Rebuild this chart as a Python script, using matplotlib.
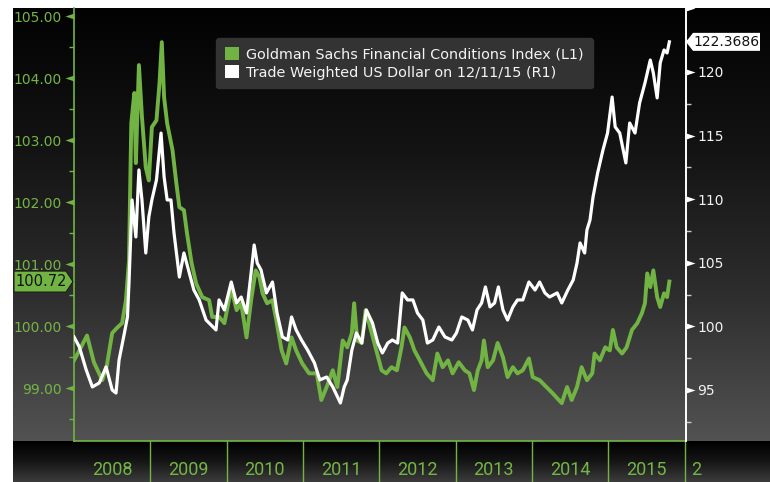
import matplotlib
matplotlib.use("Agg")
import matplotlib.pyplot as plt
import numpy as np
from matplotlib.path import Path
from matplotlib.patches import Patch, Polygon
from matplotlib.ticker import MultipleLocator, FormatStrFormatter, FixedLocator
from matplotlib.colors import LinearSegmentedColormap

# ---------------- data ----------------
gs_t = [2008.00, 2008.07, 2008.17, 2008.26, 2008.37, 2008.43, 2008.50, 2008.56, 2008.63, 2008.68,
        2008.72, 2008.75, 2008.79, 2008.81, 2008.85, 2008.89, 2008.94, 2008.98, 2009.02, 2009.08,
        2009.12, 2009.15, 2009.18, 2009.22, 2009.29, 2009.34, 2009.38, 2009.44, 2009.48, 2009.54,
        2009.60, 2009.68, 2009.77, 2009.81, 2009.90, 2009.97, 2010.06, 2010.13, 2010.19, 2010.26,
        2010.32, 2010.38, 2010.43, 2010.47, 2010.53, 2010.60, 2010.65, 2010.72, 2010.78, 2010.85,
        2010.91, 2010.99, 2011.08, 2011.18, 2011.24, 2011.31, 2011.39, 2011.45, 2011.52, 2011.58,
        2011.64, 2011.67, 2011.71, 2011.77, 2011.82, 2011.90, 2011.96, 2012.03, 2012.09, 2012.16,
        2012.23, 2012.29, 2012.33, 2012.40, 2012.46, 2012.53, 2012.62, 2012.70, 2012.76, 2012.83,
        2012.90, 2012.96, 2013.04, 2013.12, 2013.18, 2013.24, 2013.29, 2013.34, 2013.37, 2013.42,
        2013.49, 2013.55, 2013.62, 2013.68, 2013.75, 2013.81, 2013.88, 2013.96, 2014.01, 2014.10,
        2014.19, 2014.27, 2014.39, 2014.46, 2014.52, 2014.59, 2014.65, 2014.72, 2014.79, 2014.82,
        2014.89, 2014.96, 2015.02, 2015.06, 2015.11, 2015.18, 2015.24, 2015.31, 2015.38, 2015.44,
        2015.48, 2015.51, 2015.55, 2015.59, 2015.64, 2015.68, 2015.73, 2015.77, 2015.80]
gs_v = [99.45, 99.61, 99.85, 99.42, 99.13, 99.37, 99.89, 99.97, 100.05, 100.42,
        101.06, 103.27, 103.76, 102.63, 104.21, 103.37, 102.56, 102.35, 103.21, 103.32,
        103.92, 104.58, 103.69, 103.27, 102.84, 102.31, 101.92, 101.87, 101.50, 101.02,
        100.69, 100.47, 100.42, 100.15, 100.15, 100.05, 100.61, 100.26, 100.37, 99.82,
        100.42, 100.90, 100.79, 100.53, 100.37, 100.42, 100.10, 99.61, 99.40, 99.82,
        99.61, 99.40, 99.24, 99.24, 98.81, 99.02, 99.29, 99.02, 99.77, 99.66,
        99.89, 100.37, 99.77, 99.73, 100.26, 99.89, 99.61, 99.29, 99.24, 99.34,
        99.29, 99.66, 99.98, 99.82, 99.61, 99.45, 99.24, 99.13, 99.56, 99.34,
        99.45, 99.24, 99.42, 99.29, 99.24, 98.97, 99.29, 99.45, 99.77, 99.34,
        99.45, 99.73, 99.50, 99.18, 99.34, 99.24, 99.29, 99.48, 99.18, 99.13,
        99.02, 98.92, 98.76, 99.02, 98.81, 99.02, 99.34, 99.13, 99.24, 99.56,
        99.45, 99.66, 99.61, 99.94, 99.66, 99.56, 99.66, 99.94, 100.05, 100.21,
        100.37, 100.85, 100.63, 100.90, 100.47, 100.31, 100.53, 100.47, 100.72]

usd_t = [2008.00, 2008.07, 2008.16, 2008.24, 2008.33, 2008.42, 2008.50, 2008.55, 2008.59, 2008.66,
         2008.70, 2008.72, 2008.76, 2008.81, 2008.85, 2008.89, 2008.94, 2008.98, 2009.02, 2009.08,
         2009.14, 2009.18, 2009.22, 2009.27, 2009.31, 2009.38, 2009.44, 2009.51, 2009.57, 2009.64,
         2009.73, 2009.86, 2009.90, 2009.97, 2010.06, 2010.13, 2010.19, 2010.26, 2010.32, 2010.36,
         2010.40, 2010.45, 2010.52, 2010.60, 2010.66, 2010.73, 2010.80, 2010.85, 2010.91, 2010.98,
         2011.06, 2011.15, 2011.22, 2011.31, 2011.39, 2011.49, 2011.54, 2011.58, 2011.64, 2011.70,
         2011.77, 2011.83, 2011.91, 2011.98, 2012.04, 2012.11, 2012.17, 2012.24, 2012.30, 2012.37,
         2012.44, 2012.50, 2012.57, 2012.63, 2012.70, 2012.78, 2012.86, 2012.95, 2013.01, 2013.08,
         2013.16, 2013.22, 2013.28, 2013.34, 2013.39, 2013.45, 2013.51, 2013.56, 2013.62, 2013.68,
         2013.75, 2013.81, 2013.88, 2013.96, 2014.04, 2014.10, 2014.17, 2014.23, 2014.33, 2014.39,
         2014.47, 2014.54, 2014.59, 2014.63, 2014.69, 2014.72, 2014.76, 2014.80, 2014.86, 2014.93,
         2014.99, 2015.05, 2015.09, 2015.15, 2015.23, 2015.28, 2015.35, 2015.41, 2015.48, 2015.55,
         2015.59, 2015.64, 2015.68, 2015.73, 2015.77, 2015.80]
usd_v = [99.17, 98.38, 96.57, 95.24, 95.55, 96.81, 95.00, 94.76, 97.36, 99.48,
         100.74, 103.41, 109.94, 107.03, 112.30, 109.94, 105.77, 108.60, 109.94, 111.51,
         115.20, 111.75, 109.94, 109.94, 107.34, 103.88, 105.77, 104.20, 102.86, 102.08,
         100.50, 99.72, 102.08, 101.29, 103.49, 101.84, 102.31, 101.05, 104.20, 106.40,
         104.98, 104.43, 102.63, 103.49, 101.05, 99.17, 98.93, 100.74, 99.72, 98.93,
         98.14, 97.12, 95.79, 96.02, 95.24, 93.98, 95.24, 95.79, 98.14, 99.48,
         98.69, 101.29, 100.27, 98.69, 97.91, 98.69, 98.93, 98.69, 102.63, 102.08,
         102.08, 101.05, 100.50, 98.69, 98.93, 99.95, 99.17, 98.93, 99.48, 100.74,
         100.50, 99.72, 101.29, 101.84, 103.10, 101.53, 101.84, 103.10, 101.29, 100.50,
         101.53, 102.08, 102.08, 103.49, 102.86, 103.49, 102.63, 102.31, 102.63, 101.84,
         102.86, 103.65, 104.98, 106.56, 105.77, 107.58, 108.36, 110.17, 112.06, 113.87,
         115.20, 118.03, 115.68, 115.20, 112.85, 115.99, 115.20, 117.56, 119.13, 120.94,
         119.92, 117.96, 120.71, 121.73, 121.49, 122.3686]

years = [2008, 2009, 2010, 2011, 2012, 2013, 2014, 2015]
left_ticks = [99.0, 100.0, 101.0, 102.0, 103.0, 104.0, 105.0]
right_ticks = [95, 100, 105, 110, 115, 120]
label_gs = "Goldman Sachs Financial Conditions Index (L1)"
label_usd = "Trade Weighted US Dollar on 12/11/15 (R1)"
last_gs_label = "100.72"
last_usd_label = "122.3686"

# ---------------- styling ----------------
GREEN = "#72b443"
GREEN_TXT = "#74b545"
W, H = 770, 482
plt.rcParams['font.family'] = ['DejaVu Sans']

fig = plt.figure(figsize=(W / 100, H / 100), dpi=100, facecolor="white")

# background in pixel coordinates
bg = fig.add_axes([0, 0, 1, 1], zorder=0)
bg.set_xlim(0, W)
bg.set_ylim(H, 0)
bg.axis("off")
grad = np.linspace(0, 1, 256).reshape(-1, 1)
cm_main = LinearSegmentedColormap.from_list("m", ["#020202", "#141414", "#2e2e2e", "#525252"])
cm_band = LinearSegmentedColormap.from_list("b", ["#000000", "#161616", "#3c3c3c"])
bg.imshow(grad, aspect="auto", cmap=cm_main, extent=(13, W, 441, 8), origin="upper", zorder=0)
bg.imshow(grad, aspect="auto", cmap=cm_band, extent=(13, W, 482, 441), origin="upper", zorder=0)

# main axes
L, R, T, B = 73.5, 686, 8, 441
ax = fig.add_axes([L / W, (H - B) / H, (R - L) / W, (B - T) / H], zorder=2)
ax.set_facecolor("none")
ax2 = ax.twinx()
ax2.set_facecolor("none")

ax.set_xlim(2007.993, 2016.018)
ax.set_ylim(98.15, 105.13)
ax2.set_ylim(90.99, 125.03)

ax.plot(gs_t, gs_v, color=GREEN, lw=2.8, solid_joinstyle="round", zorder=3)
ax2.plot(usd_t, usd_v, color="white", lw=2.3, solid_joinstyle="round", zorder=4)

for a in (ax, ax2):
    for s in a.spines.values():
        s.set_visible(False)
ax.spines["left"].set_visible(True)
ax.spines["left"].set_color(GREEN)
ax.spines["left"].set_linewidth(1.2)
ax.spines["bottom"].set_visible(True)
ax.spines["bottom"].set_color(GREEN)
ax.spines["bottom"].set_linewidth(1.2)
ax2.spines["right"].set_visible(True)
ax2.spines["right"].set_color("white")
ax2.spines["right"].set_linewidth(1.4)

ax.set_xticks([])
ax2.set_xticks([])

# left axis ticks
ax.yaxis.set_major_locator(FixedLocator(left_ticks))
ax.yaxis.set_major_formatter(FormatStrFormatter("%.2f"))
ax.yaxis.set_minor_locator(MultipleLocator(0.5))
ax.tick_params(axis="y", which="major", length=0, pad=8.3, labelsize=10, labelcolor=GREEN_TXT)
ax.tick_params(axis="y", which="minor", length=3.5, width=1, color=GREEN, direction="out")

# right axis ticks
ax2.yaxis.set_major_locator(FixedLocator(right_ticks))
ax2.yaxis.set_minor_locator(FixedLocator([92.5, 97.5, 102.5, 107.5, 112.5, 117.5, 122.5]))
ax2.tick_params(axis="y", which="major", length=0, pad=8, labelsize=10, labelcolor="#f2f2f2")
ax2.tick_params(axis="y", which="minor", length=3.5, width=1, color="#cccccc", direction="out")

tri_left = Path([(0, 0.33), (-1, 0), (0, -0.33), (0, 0.33)], [1, 2, 2, 79])
tri_right = Path([(0, 0.33), (1, 0), (0, -0.33), (0, 0.33)], [1, 2, 2, 79])
ax.plot([0] * len(left_ticks), left_ticks, ls="none", marker=tri_left, ms=13,
        color=GREEN, mec="none", transform=ax.get_yaxis_transform(), clip_on=False, zorder=5)
ax2.plot([1] * len(right_ticks), right_ticks, ls="none", marker=tri_right, ms=13,
         color="white", mec="none", transform=ax2.get_yaxis_transform(), clip_on=False, zorder=5)
ax2.plot([1], [125], ls="none", marker=tri_right, ms=13, color="white", mec="none",
         transform=ax2.get_yaxis_transform(), clip_on=False, zorder=5)

# year band: separators and labels
band_h = (H - B) / (B - T)
for yr in years[1:] + [2016]:
    ax.axvline(yr, ymin=-band_h, ymax=0, color=GREEN, lw=1.0, clip_on=False)
year_font = ["Roboto", "DejaVu Sans"]
for yr in years:
    ax.text(yr + 0.5, -(470 - B) / (B - T), str(yr), transform=ax.get_xaxis_transform(),
            ha="center", va="center", color=GREEN_TXT, fontsize=13, family=year_font)
ax.text(2016.08, -(470 - B) / (B - T), "2", transform=ax.get_xaxis_transform(),
        ha="left", va="center", color=GREEN_TXT, fontsize=13, family=year_font)

# legend
handles = [Patch(facecolor=GREEN, edgecolor="none", label=label_gs),
           Patch(facecolor="white", edgecolor="none", label=label_usd)]
leg = ax2.legend(handles=handles, loc="upper left",
                 bbox_to_anchor=((216 - L) / (R - L), (B - 38) / (B - T)),
                 frameon=True, fancybox=True, framealpha=1, facecolor="#333333",
                 edgecolor="#333333", fontsize=10.4, handlelength=1.0, handleheight=1.0,
                 handletextpad=0.5, labelspacing=0.3, borderpad=0.6, borderaxespad=0)
for txt in leg.get_texts():
    txt.set_color("#f4f4f4")
leg.set_zorder(10)

# value tags (positions derived from the last data values)
fig.canvas.draw()
inv = fig.transFigure.inverted()

ygs = inv.transform(ax.transData.transform((ax.get_xlim()[0], gs_v[-1])))[1]
hh = 10.5 / H
x0, x1, xt = 14 / W, 66 / W, 73 / W
poly = Polygon([(x0, ygs - hh), (x1, ygs - hh), (xt, ygs), (x1, ygs + hh), (x0, ygs + hh)],
               closed=True, transform=fig.transFigure, facecolor=GREEN, edgecolor="#1a1a1a",
               lw=0.8, zorder=20)
fig.add_artist(poly)
fig.text((x0 + x1) / 2 + 1 / W, ygs, last_gs_label, ha="center", va="center", fontsize=10.5,
         color="#111111", zorder=21)

yusd = inv.transform(ax2.transData.transform((ax.get_xlim()[0], usd_v[-1])))[1]
hh2 = 9 / H
x0r, x1r, xtr = 693 / W, 760 / W, 686 / W
poly2 = Polygon([(xtr, yusd), (x0r, yusd - hh2), (x1r, yusd - hh2), (x1r, yusd + hh2), (x0r, yusd + hh2)],
                closed=True, transform=fig.transFigure, facecolor="white", edgecolor="none", zorder=20)
fig.add_artist(poly2)
fig.text((x0r + x1r) / 2, yusd, last_usd_label, ha="center", va="center", fontsize=10,
         color="#111111", zorder=21)

fig.savefig("out.png", dpi=100, facecolor="white")
